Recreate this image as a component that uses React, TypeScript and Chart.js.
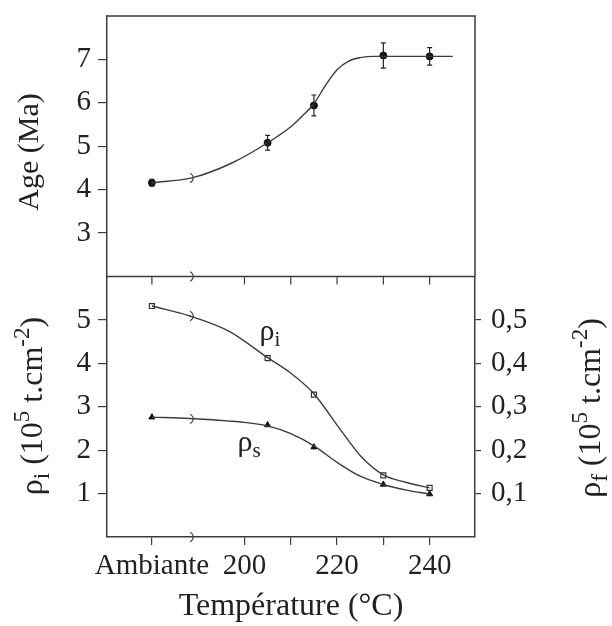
import React, { useEffect, useRef } from "react";
import { Chart, registerables } from "chart.js";

Chart.register(...registerables);

// ---------- data ----------
// Temperature axis is broken: "Ambiante" (room temperature) sits at 180 on the axis.
const xTickValues = [180, 200, 210, 220, 230, 240];
const xTickLabels = ["Ambiante", "200", "", "220", "", "240"];
const X_MIN = 170.3;
const X_MAX = 249.8;
const BREAK_T = 188.5;

const ageTickValues = [3, 4, 5, 6, 7];
const rhoTickValues = [1, 2, 3, 4, 5];
const rhoFTickValues = [0.1, 0.2, 0.3, 0.4, 0.5];
const rhoFTickLabels = ["0,1", "0,2", "0,3", "0,4", "0,5"];

// measured ages (Ma)
const ageTemps = [180, 205, 215, 230, 240];
const ageValues = [4.16, 5.08, 5.94, 7.09, 7.07];
const ageErrors = [0.08, 0.17, 0.24, 0.29, 0.2];

// fitted age curve
const ageCurveTemps = [180, 188.6, 197.4, 205, 210, 212.5, 215, 217.5, 220, 222.5, 225, 228, 240, 245];
const ageCurveValues = [4.16, 4.27, 4.62, 5.08, 5.45, 5.7, 5.98, 6.4, 6.76, 6.96, 7.04, 7.07, 7.07, 7.07];

// rho_i (open squares)
const rhoITemps = [180, 205, 215, 230, 240];
const rhoIValues = [5.32, 4.12, 3.28, 1.42, 1.13];
const rhoICurveTemps = [180, 188.2, 196.8, 205, 209.7, 215, 220.4, 225.4, 230, 234.8, 240];
const rhoICurveValues = [5.32, 5.09, 4.73, 4.13, 3.8, 3.3, 2.52, 1.83, 1.43, 1.26, 1.13];

// rho_s (filled triangles)
const rhoSTemps = [180, 205, 215, 230, 240];
const rhoSValues = [2.76, 2.58, 2.07, 1.21, 0.99];
const rhoSCurveTemps = [180, 188, 196.8, 200, 205, 210, 215, 220, 225, 230, 235, 240];
const rhoSCurveValues = [2.76, 2.73, 2.67, 2.64, 2.56, 2.38, 2.1, 1.72, 1.4, 1.21, 1.08, 0.99];

// ---------- style ----------
const FONT = '"Liberation Serif", "DejaVu Serif", serif';
const TEXT = "#222";
const LINE = "#3c3c3c";
const TICK_SIZE = 29;

type Part = { t: string; s: number; dy: number };

function drawRich(ctx: CanvasRenderingContext2D, parts: Part[], x: number, y: number, rotate: boolean) {
  ctx.save();
  ctx.translate(x, y);
  if (rotate) ctx.rotate(-Math.PI / 2);
  ctx.fillStyle = TEXT;
  ctx.textBaseline = "alphabetic";
  ctx.textAlign = "left";
  let total = 0;
  const widths = parts.map((p) => {
    ctx.font = `${p.s}px ${FONT}`;
    const w = ctx.measureText(p.t).width;
    total += w;
    return w;
  });
  let cx = -total / 2;
  parts.forEach((p, i) => {
    ctx.font = `${p.s}px ${FONT}`;
    ctx.fillText(p.t, cx, p.dy);
    cx += widths[i];
  });
  ctx.restore();
}

const pts = (xs: number[], ys: number[]) => xs.map((x, i) => ({ x, y: ys[i] }));

const rhoTitle = (sub: string): Part[] => [
  { t: "ρ", s: 32, dy: 0 },
  { t: sub, s: 23, dy: 7 },
  { t: " (10", s: 32, dy: 0 },
  { t: "5", s: 23, dy: -13 },
  { t: " t.cm", s: 32, dy: 0 },
  { t: "-2", s: 23, dy: -13 },
  { t: ")", s: 32, dy: 0 },
];

const decorPlugin = {
  id: "decor",
  afterDraw(chart: any) {
    const { ctx, chartArea, scales } = chart;
    const x = scales.x;
    const yA = scales.yAge;
    const yR = scales.yRho;
    ctx.save();
    ctx.strokeStyle = LINE;
    ctx.lineWidth = 1.5;
    ctx.beginPath();
    ctx.moveTo(chartArea.left, yA.top);
    ctx.lineTo(chartArea.right, yA.top);
    ctx.lineTo(chartArea.right, yA.bottom);
    ctx.moveTo(chartArea.left, yA.bottom);
    ctx.lineTo(chartArea.right, yA.bottom);
    ctx.stroke();
    // ticks on the boundary between panels
    ctx.lineWidth = 1.2;
    ctx.beginPath();
    for (const t of x.ticks) {
      const px = x.getPixelForValue(t.value);
      ctx.moveTo(px, yA.bottom);
      ctx.lineTo(px, yA.bottom + 8);
    }
    ctx.stroke();

    // error bars on ages
    ctx.lineWidth = 1.2;
    ctx.strokeStyle = "#222";
    ageTemps.forEach((t, i) => {
      const px = x.getPixelForValue(t);
      const y1 = yA.getPixelForValue(ageValues[i] + ageErrors[i]);
      const y2 = yA.getPixelForValue(ageValues[i] - ageErrors[i]);
      ctx.beginPath();
      ctx.moveTo(px, y1);
      ctx.lineTo(px, y2);
      ctx.moveTo(px - 2.5, y1);
      ctx.lineTo(px + 2.5, y1);
      ctx.moveTo(px - 2.5, y2);
      ctx.lineTo(px + 2.5, y2);
      ctx.stroke();
    });

    // axis break marks
    const bx = x.getPixelForValue(BREAK_T);
    const marks: number[] = [
      yA.bottom,
      yR.bottom,
      yA.getPixelForValue(4.27),
      yR.getPixelForValue(5.09),
      yR.getPixelForValue(2.72),
    ];
    ctx.lineWidth = 1.1;
    ctx.strokeStyle = LINE;
    marks.forEach((my) => {
      ctx.beginPath();
      ctx.arc(bx - 3, my, 5, -Math.PI / 2.6, Math.PI / 2.6);
      ctx.stroke();
    });

    // curve labels
    drawRich(ctx, [{ t: "ρ", s: 30, dy: 0 }, { t: "i", s: 21, dy: 6 }], x.getPixelForValue(205.5), yR.getPixelForValue(4.54), false);
    drawRich(ctx, [{ t: "ρ", s: 30, dy: 0 }, { t: "s", s: 21, dy: 6 }], x.getPixelForValue(201), yR.getPixelForValue(1.97), false);

    // axis titles
    drawRich(ctx, [{ t: "Age (Ma)", s: 30, dy: 0 }], 38, 152, true);
    drawRich(ctx, rhoTitle("i"), 42, 406, true);
    drawRich(ctx, rhoTitle("f"), 600, 408, true);
    drawRich(ctx, [{ t: "Température (°C)", s: 32, dy: 0 }], 291, 615, false);
    ctx.restore();
  },
};

export default function App() {
  const ref = useRef<HTMLCanvasElement | null>(null);

  useEffect(() => {
    document.body.style.margin = "0";
    const canvas = ref.current;
    if (!canvas) return;

    const tickFont = { family: FONT, size: TICK_SIZE };
    const leftFit = (s: any) => {
      s.width = 107;
      s.paddingTop = 0;
      s.paddingBottom = 0;
    };
    const rightFit = (s: any) => {
      s.width = 137;
      s.paddingTop = 0;
      s.paddingBottom = 0;
    };

    const chart = new Chart(canvas, {
      type: "line",
      data: {
        datasets: [
          {
            data: pts(ageCurveTemps, ageCurveValues),
            yAxisID: "yAge",
            borderColor: LINE,
            borderWidth: 1.4,
            pointRadius: 0,
            cubicInterpolationMode: "monotone",
          },
          {
            data: pts(ageTemps, ageValues),
            yAxisID: "yAge",
            showLine: false,
            pointStyle: "circle",
            pointRadius: 3.5,
            backgroundColor: "#111",
            borderColor: "#111",
          },
          {
            data: pts(rhoICurveTemps, rhoICurveValues),
            yAxisID: "yRho",
            borderColor: LINE,
            borderWidth: 1.4,
            pointRadius: 0,
            cubicInterpolationMode: "monotone",
          },
          {
            data: pts(rhoITemps, rhoIValues),
            yAxisID: "yRho",
            showLine: false,
            pointStyle: "rect",
            pointRadius: 3.5,
            backgroundColor: "#fff",
            borderColor: "#333",
            borderWidth: 1.2,
          },
          {
            data: pts(rhoSCurveTemps, rhoSCurveValues),
            yAxisID: "yRho",
            borderColor: LINE,
            borderWidth: 1.4,
            pointRadius: 0,
            cubicInterpolationMode: "monotone",
          },
          {
            data: pts(rhoSTemps, rhoSValues),
            yAxisID: "yRho",
            showLine: false,
            pointStyle: "triangle",
            pointRadius: 3.5,
            backgroundColor: "#111",
            borderColor: "#111",
          },
        ],
      },
      options: {
        animation: false,
        responsive: false,
        devicePixelRatio: 1,
        layout: { padding: { top: 16, left: 0, right: 0, bottom: 0 } },
        plugins: { legend: { display: false }, tooltip: { enabled: false } },
        scales: {
          x: {
            type: "linear",
            position: "bottom",
            min: X_MIN,
            max: X_MAX,
            afterBuildTicks: (s: any) => {
              s.ticks = xTickValues.map((v) => ({ value: v }));
            },
            afterFit: (s: any) => {
              s.height = 89;
              s.paddingLeft = 0;
              s.paddingRight = 0;
            },
            ticks: {
              autoSkip: false,
              maxRotation: 0,
              padding: 4,
              color: TEXT,
              font: tickFont,
              callback: (v: any) => {
                const i = xTickValues.indexOf(Number(v));
                return i >= 0 ? xTickLabels[i] : "";
              },
            },
            grid: { drawOnChartArea: false, drawTicks: true, tickLength: 8, color: LINE, lineWidth: 1.2 },
            border: { color: LINE, width: 1.5 },
          },
          yAge: {
            type: "linear",
            position: "left",
            stack: "L",
            stackWeight: 1,
            weight: 2,
            min: 2,
            max: 8,
            afterBuildTicks: (s: any) => {
              s.ticks = ageTickValues.map((v) => ({ value: v }));
            },
            afterFit: leftFit,
            ticks: { padding: 7, color: TEXT, font: tickFont },
            grid: { drawOnChartArea: false, tickLength: 9, color: LINE, lineWidth: 1.2 },
            border: { color: LINE, width: 1.5 },
          },
          yRho: {
            type: "linear",
            position: "left",
            stack: "L",
            stackWeight: 1,
            weight: 1,
            min: 0,
            max: 6,
            afterBuildTicks: (s: any) => {
              s.ticks = rhoTickValues.map((v) => ({ value: v }));
            },
            afterFit: leftFit,
            ticks: { padding: 7, color: TEXT, font: tickFont },
            grid: { drawOnChartArea: false, tickLength: 9, color: LINE, lineWidth: 1.2 },
            border: { color: LINE, width: 1.5 },
          },
          yFTop: {
            type: "linear",
            position: "right",
            stack: "R",
            stackWeight: 1,
            weight: 1,
            min: 0,
            max: 1,
            afterFit: rightFit,
            ticks: { display: false },
            grid: { display: false },
            border: { display: false },
          },
          yF: {
            type: "linear",
            position: "right",
            stack: "R",
            stackWeight: 1,
            weight: 2,
            min: 0,
            max: 0.6,
            afterBuildTicks: (s: any) => {
              s.ticks = rhoFTickValues.map((v) => ({ value: v }));
            },
            afterFit: rightFit,
            ticks: {
              padding: 10,
              color: TEXT,
              font: tickFont,
              callback: (v: any) => {
                const i = rhoFTickValues.findIndex((t) => Math.abs(t - Number(v)) < 1e-6);
                return i >= 0 ? rhoFTickLabels[i] : "";
              },
            },
            grid: { drawOnChartArea: false, tickLength: 6, color: LINE, lineWidth: 1.2 },
            border: { color: LINE, width: 1.5 },
          },
        },
      } as any,
      plugins: [decorPlugin],
    });

    return () => chart.destroy();
  }, []);

  return (
    <div style={{ width: 612, height: 626, background: "#fff" }}>
      <canvas ref={ref} width={612} height={626} style={{ display: "block" }} />
    </div>
  );
}
